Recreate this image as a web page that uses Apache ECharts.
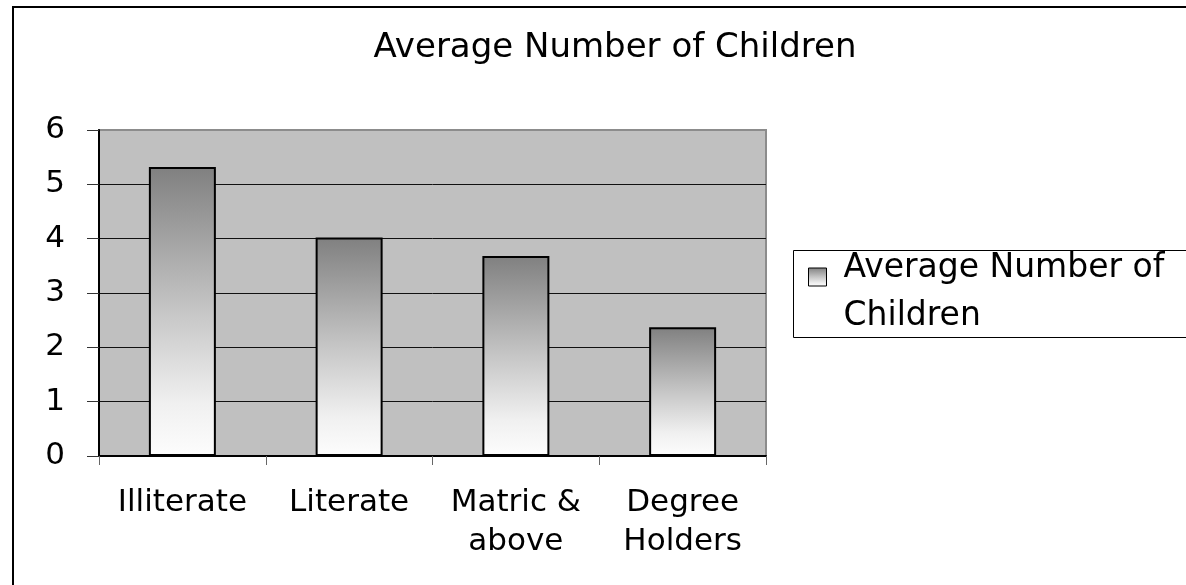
<!DOCTYPE html>
<html>
<head>
<meta charset="utf-8">
<script src="https://cdn.jsdelivr.net/npm/echarts@6/dist/echarts.min.js"></script>
<style>
  html, body { margin: 0; padding: 0; background: #fff; }
  #chart { width: 1186px; height: 585px; }
</style>
</head>
<body>
<div id="chart"></div>
<script>
// Education level categories (two-line labels as printed under the axis)
const categories = ['Illiterate', 'Literate', 'Matric &\nabove', 'Degree\nHolders'];
// Average number of children per education level
const avgChildren = [5.32, 4.02, 3.68, 2.37];
const seriesName = 'Average Number of Children';
const chartTitle = 'Average Number of Children';
// Value axis range and step
const yMin = 0, yMax = 6, yStep = 1;

const FONT = 'DejaVu Sans';

// Vertical one-colour gradient used by the bars and the legend key
const barGradient = {
  type: 'linear', x: 0, y: 0, x2: 0, y2: 1,
  colorStops: [
    { offset: 0, color: '#808080' },
    { offset: 0.5, color: '#c6c6c6' },
    { offset: 0.82, color: '#f0f0f0' },
    { offset: 1, color: '#fdfdfd' }
  ]
};

// Legend label: wrap the last word onto a second line; a short empty
// leading line pushes the text down so the key sits beside line one.
function legendLabel(name) {
  const parts = name.match(/^(.*) (\S+)$/);
  return '{s|}\n{t|' + parts[1] + '}\n{t|' + parts[2] + '}';
}

const chart = echarts.init(document.getElementById('chart'), null, { renderer: 'canvas' });

chart.setOption({
  backgroundColor: '#ffffff',
  animation: false,
  title: {
    text: chartTitle,
    left: 610,
    top: 26,
    textAlign: 'center',
    textStyle: { fontFamily: FONT, fontSize: 34, fontWeight: 'normal', color: '#000' }
  },
  graphic: [
    {
      // chart-area frame
      type: 'rect', silent: true, z: 0,
      shape: { x: 13, y: 7, width: 1300, height: 700 },
      style: { fill: 'none', stroke: '#000', lineWidth: 2 }
    },
    {
      // legend frame
      type: 'rect', silent: true, z: 0,
      shape: { x: 793.5, y: 250.5, width: 440, height: 87 },
      style: { fill: 'none', stroke: '#000', lineWidth: 1 }
    }
  ],
  legend: {
    left: 808,
    top: 214,
    padding: 0,
    itemWidth: 18,
    itemHeight: 18,
    icon: 'rect',
    itemStyle: { color: barGradient, borderColor: '#000', borderWidth: 1 },
    formatter: legendLabel,
    textStyle: {
      fontFamily: FONT, fontSize: 33, color: '#000',
      padding: [0, 0, 0, 12],
      rich: {
        s: { fontSize: 10, lineHeight: 30, height: 30 },
        t: { fontFamily: FONT, fontSize: 33, lineHeight: 48, color: '#000' }
      }
    },
    data: [seriesName]
  },
  grid: {
    left: 99, right: 420, top: 130, bottom: 129,
    show: true,
    backgroundColor: '#c0c0c0',
    borderColor: '#8c8c8c',
    borderWidth: 2
  },
  xAxis: {
    type: 'category',
    data: categories,
    boundaryGap: true,
    axisLine: { show: true, lineStyle: { color: '#000', width: 2 } },
    axisTick: { show: true, alignWithLabel: false, length: 9, lineStyle: { color: '#666', width: 1 } },
    axisLabel: {
      interval: 0, margin: 27, color: '#000',
      fontFamily: FONT, fontSize: 31, lineHeight: 39
    },
    splitLine: { show: false }
  },
  yAxis: {
    type: 'value',
    min: yMin, max: yMax, interval: yStep,
    axisLine: { show: true, lineStyle: { color: '#000', width: 2 } },
    axisTick: { show: true, length: 12, lineStyle: { color: '#333', width: 1 } },
    axisLabel: { margin: 34, color: '#000', fontFamily: FONT, fontSize: 31 },
    splitLine: {
      show: true, showMaxLine: false,
      lineStyle: { color: '#111', width: 1 }
    }
  },
  series: [{
    name: seriesName,
    type: 'bar',
    data: avgChildren,
    barWidth: 67,
    itemStyle: { color: barGradient, borderColor: '#000', borderWidth: 2 }
  }]
});
</script>
</body>
</html>
